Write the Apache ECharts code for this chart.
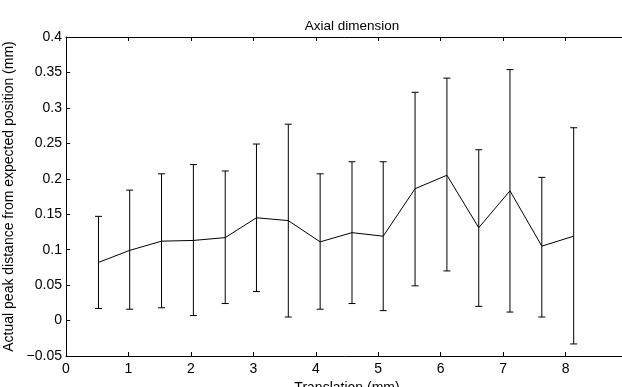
<!DOCTYPE html>
<html>
<head>
<meta charset="utf-8">
<script src="https://cdn.jsdelivr.net/npm/echarts@6/dist/echarts.min.js"></script>
<style>html,body{margin:0;padding:0;background:#fff}#c{width:622px;height:387px}</style>
</head>
<body>
<div id="c"></div>
<script>
const translation = [0.52, 1.02, 1.53, 2.04, 2.55, 3.05, 3.56, 4.07, 4.58, 5.08, 5.59, 6.10, 6.61, 7.11, 7.62, 8.13];
const meanDist = [0.082, 0.099, 0.112, 0.113, 0.117, 0.145, 0.141, 0.111, 0.124, 0.119, 0.186, 0.205, 0.131, 0.183, 0.105, 0.119];
const upperDist = [0.147, 0.184, 0.207, 0.220, 0.211, 0.249, 0.277, 0.207, 0.224, 0.224, 0.322, 0.342, 0.241, 0.354, 0.202, 0.272];
const lowerDist = [0.017, 0.016, 0.018, 0.007, 0.024, 0.041, 0.005, 0.016, 0.024, 0.014, 0.049, 0.070, 0.020, 0.012, 0.005, -0.033];
const xTicks = [0, 1, 2, 3, 4, 5, 6, 7, 8];

const FONT = "'Liberation Sans', Arial, Helvetica, sans-serif";
const FS = 14;
const chart = echarts.init(document.getElementById('c'), null, {renderer: 'canvas'});
const fmtY = v => String(parseFloat(v.toFixed(2))).replace('-', '\u2212');
const fmtX = v => xTicks.indexOf(v) >= 0 ? String(v) : '';

chart.setOption({
  animation: false,
  backgroundColor: '#fff',
  title: {
    text: 'Axial dimension', left: 347, top: 14, textAlign: 'center',
    textStyle: {fontFamily: FONT, fontSize: 13.5, fontWeight: 'normal', color: '#000'}
  },
  grid: {left: 66, top: 37, width: 562, height: 319, containLabel: false, outerBoundsMode: 'none'},
  xAxis: [{
    type: 'value', min: 0, max: 9, interval: 1, position: 'bottom',
    name: 'Translation (mm)', nameLocation: 'middle', nameGap: 25,
    nameTextStyle: {fontFamily: FONT, fontSize: FS, color: '#000'},
    axisLine: {show: true, onZero: false, lineStyle: {color: '#000', width: 1}},
    axisTick: {show: true, inside: true, length: 4, lineStyle: {color: '#000'}},
    axisLabel: {fontFamily: FONT, fontSize: FS, color: '#000', margin: 6, formatter: fmtX},
    splitLine: {show: false}
  }, {
    type: 'value', min: 0, max: 9, interval: 1, position: 'top',
    axisLine: {show: true, onZero: false, lineStyle: {color: '#000', width: 1}},
    axisTick: {show: true, inside: true, length: 4, lineStyle: {color: '#000'}},
    axisLabel: {show: false},
    splitLine: {show: false}
  }],
  yAxis: {
    type: 'value', min: -0.05, max: 0.4, interval: 0.05,
    name: 'Actual peak distance from expected position (mm)', nameLocation: 'middle', nameGap: 45,
    nameTextStyle: {fontFamily: FONT, fontSize: FS, color: '#000'},
    axisLine: {show: true, onZero: false, lineStyle: {color: '#000', width: 1}},
    axisTick: {show: true, inside: true, length: 4, lineStyle: {color: '#000'}},
    axisLabel: {fontFamily: FONT, fontSize: FS, color: '#000', margin: 4, formatter: fmtY},
    splitLine: {show: false}
  },
  series: [{
    type: 'line',
    data: translation.map((x, i) => [x, meanDist[i]]),
    showSymbol: false, symbol: 'none',
    lineStyle: {color: '#000', width: 1}
  }, {
    type: 'custom',
    data: translation.map((x, i) => [x, lowerDist[i], upperDist[i]]),
    renderItem: function (params, api) {
      const x = api.value(0);
      const pLo = api.coord([x, api.value(1)]);
      const pHi = api.coord([x, api.value(2)]);
      const w = 3.5;
      const st = {stroke: '#000', lineWidth: 1};
      return {
        type: 'group',
        children: [
          {type: 'line', shape: {x1: pLo[0], y1: pLo[1], x2: pHi[0], y2: pHi[1]}, style: st},
          {type: 'line', shape: {x1: pHi[0] - w, y1: pHi[1], x2: pHi[0] + w, y2: pHi[1]}, style: st},
          {type: 'line', shape: {x1: pLo[0] - w, y1: pLo[1], x2: pLo[0] + w, y2: pLo[1]}, style: st}
        ]
      };
    }
  }]
});
</script>
</body>
</html>
